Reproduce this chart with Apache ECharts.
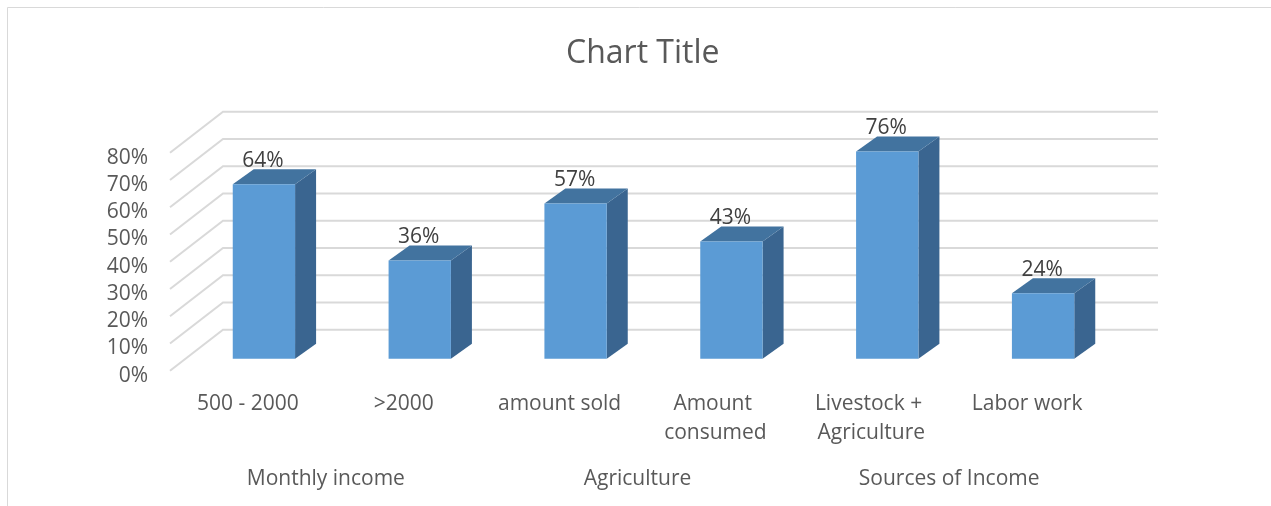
<!DOCTYPE html>
<html>
<head>
<meta charset="utf-8">
<script src="https://cdn.jsdelivr.net/npm/echarts@6/dist/echarts.min.js"></script>
<style>
  html, body { margin: 0; padding: 0; background: #ffffff; }
  #chart { width: 1271px; height: 506px; }
</style>
</head>
<body>
<div id="chart"></div>
<script>
// Category labels, their group labels and the values shown on each column
const categories = ['500 - 2000', '>2000', 'amount sold', 'Amount consumed', 'Livestock + Agriculture', 'Labor work'];
const groups = ['Monthly income', 'Agriculture', 'Sources of Income'];
const values = [0.64, 0.36, 0.57, 0.43, 0.76, 0.24];
// Value-axis ticks (back wall gridlines)
const ticks = [0, 0.1, 0.2, 0.3, 0.4, 0.5, 0.6, 0.7, 0.8];

const FONT = '"Open Sans", "Noto Sans", sans-serif';
const TEXT = '#595959';

// Oblique depth of the floor / walls
const WALL_DX = 53, WALL_DY = -41;
// Column placement inside the depth
const COL_DX = 16, COL_DY = -12;
const SIDE_DX = 21, SIDE_DY = -15;

const chart = echarts.init(document.getElementById('chart'), null, { renderer: 'canvas' });

function pct(v) { return Math.round(v * 100) + '%'; }

const option = {
  backgroundColor: '#ffffff',
  animation: false,
  title: {
    text: 'Chart Title',
    left: 561,
    top: 33,
    textStyle: { fontFamily: FONT, fontSize: 32, fontWeight: 'normal', color: TEXT }
  },
  graphic: [{
    type: 'rect',
    shape: { x: 7.5, y: 7.5, width: 1400, height: 700 },
    style: { fill: null, stroke: '#d9d9d9', lineWidth: 1 },
    silent: true, z: -10
  }],
  grid: { left: 170, right: 166, top: 152.7, bottom: 135.3, containLabel: false },
  xAxis: [{
    type: 'category',
    data: categories,
    position: 'bottom',
    axisLine: { show: false },
    axisTick: { show: false },
    splitLine: { show: false },
    axisLabel: {
      interval: 0,
      margin: 19,
      fontFamily: FONT, fontSize: 21, color: TEXT,
      lineHeight: 29,
      width: 150, overflow: 'break'
    }
  }, {
    type: 'category',
    data: groups,
    position: 'bottom',
    axisLine: { show: false },
    axisTick: { show: false },
    splitLine: { show: false },
    axisLabel: {
      interval: 0,
      margin: 94,
      fontFamily: FONT, fontSize: 21, color: TEXT,
      lineHeight: 29
    }
  }],
  yAxis: {
    type: 'value',
    min: 0, max: 0.8, interval: 0.1,
    axisLine: { show: false },
    axisTick: { show: false },
    splitLine: { show: false },
    axisLabel: {
      margin: 22,
      verticalAlign: 'top',
      lineHeight: 10,
      fontFamily: FONT, fontSize: 21, color: TEXT,
      formatter: pct
    }
  },
  series: [{
    // Side-wall diagonals and back-wall gridlines
    type: 'custom',
    xAxisIndex: 0,
    silent: true,
    z: 1,
    data: ticks.map(t => [0, t]),
    encode: { x: 0, y: 1 },
    renderItem: function (params, api) {
      const cs = params.coordSys;
      const y = api.coord([0, api.value(1)])[1];
      const x0 = cs.x, x1 = cs.x + cs.width;
      return {
        type: 'polyline',
        shape: { points: [[x0, y], [x0 + WALL_DX, y + WALL_DY], [x1 + WALL_DX, y + WALL_DY]] },
        style: { stroke: '#d9d9d9', lineWidth: 2, fill: null }
      };
    }
  }, {
    // 3-D columns
    type: 'custom',
    xAxisIndex: 0,
    z: 2,
    data: values.map((v, i) => [i, v]),
    encode: { x: 0, y: 1 },
    renderItem: function (params, api) {
      const i = api.value(0), v = api.value(1);
      const base = api.coord([i, 0]);
      const top = api.coord([i, v]);
      const bw = api.size([1, 0])[0] * 0.4;
      const cx = base[0] + COL_DX;
      const xl = cx - bw / 2, xr = cx + bw / 2;
      const yb = base[1] + COL_DY, yt = top[1] + COL_DY;
      return {
        type: 'group',
        children: [{
          type: 'polygon',
          shape: { points: [[xr, yt], [xr + SIDE_DX, yt + SIDE_DY], [xr + SIDE_DX, yb + SIDE_DY], [xr, yb]] },
          style: { fill: '#3a6590' }
        }, {
          type: 'polygon',
          shape: { points: [[xl, yt], [xr, yt], [xr + SIDE_DX, yt + SIDE_DY], [xl + SIDE_DX, yt + SIDE_DY]] },
          style: { fill: '#42739f' }
        }, {
          type: 'rect',
          shape: { x: xl, y: yt, width: bw, height: yb - yt },
          style: { fill: '#5b9bd5' }
        }, {
          type: 'text',
          x: cx - 1,
          y: yt + SIDE_DY - 8.5,
          style: {
            text: pct(v),
            fontFamily: FONT, fontSize: 21, fill: '#404040',
            align: 'center', verticalAlign: 'middle'
          }
        }]
      };
    }
  }]
};

chart.setOption(option);
</script>
</body>
</html>
